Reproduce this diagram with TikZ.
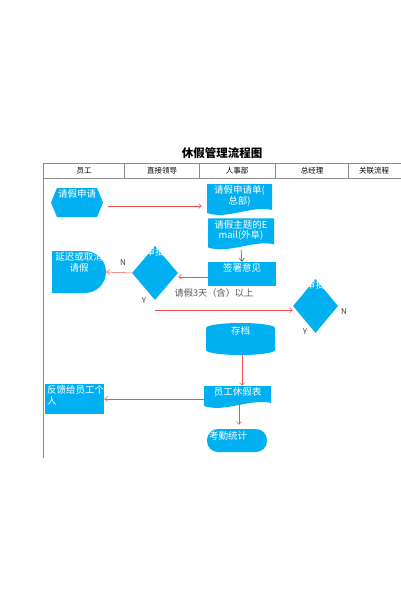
\documentclass[tikz,border=0pt]{standalone}
\usepackage{fontspec}
\setmainfont{Noto Sans CJK SC}
\usepackage{tikz}
\usetikzlibrary{shapes.geometric, shapes.symbols, arrows.meta, positioning, calc}
\definecolor{flowblue}{RGB}{0,176,240}
\definecolor{arrowred}{RGB}{240,80,80}
\definecolor{gridgray}{RGB}{140,140,140}

\begin{document}
\begin{tikzpicture}[x=1pt, y=-1pt, font=\fontsize{9.5}{10.5}\selectfont]
        % Styles
        \tikzstyle{flowshape} = [inner sep=0pt, draw=none]
        \tikzstyle{txt} = [label={[text=white, anchor=north, align=center, inner sep=2pt]north:#1}]
        \tikzstyle{txtleft} = [label={[text=white, anchor=north west, align=left, inner sep=2pt]north west:#1}]
        \tikzstyle{block} = [flowshape, rectangle, fill=flowblue]
        \tikzstyle{hexa} = [flowshape, signal, signal to=west and east, signal pointer angle=135, fill=flowblue]
        \tikzstyle{decision} = [flowshape, diamond, fill=flowblue]
        \tikzstyle{terminal} = [flowshape, rectangle, rounded corners=11pt, fill=flowblue]
        \tikzstyle{doc} = [flowshape, rectangle, path picture={
            \fill[flowblue] (path picture bounding box.north west) -- (path picture bounding box.north east)
              -- ([yshift=5pt]path picture bounding box.south east)
              .. controls ([xshift=-20pt, yshift=10pt]path picture bounding box.south east) and ([xshift=20pt, yshift=-5pt]path picture bounding box.south west) ..
              ([yshift=2pt]path picture bounding box.south west) -- cycle;}]
        \tikzstyle{delay} = [flowshape, rectangle, path picture={
            \fill[flowblue] (path picture bounding box.north west) -- ([xshift=-21pt]path picture bounding box.north east)
              arc[start angle=90, end angle=-90, radius=21pt] -- (path picture bounding box.south west) -- cycle;}]
        \tikzstyle{disk} = [flowshape, rectangle, path picture={
            \fill[flowblue] let \p1=(path picture bounding box.north west), \p2=(path picture bounding box.south east), \n1={(\x2-\x1)/2} in
              (\x1,\y1-5pt) arc[start angle=180, end angle=0, x radius=\n1, y radius=5pt]
              -- (\x2,\y2+5pt) arc[start angle=0, end angle=-180, x radius=\n1, y radius=5pt] -- cycle;}]
        \tikzstyle{line} = [draw=arrowred, line width=0.5pt, -{Straight Barb[length=3pt, width=5pt]}]
        \tikzstyle{laneline} = [draw=gridgray, line width=0.6pt]
        \tikzstyle{head} = [font=\fontsize{7.5}{8}\selectfont]
        \tikzstyle{yn} = [text=black!75, font=\fontsize{8}{8}\selectfont]

        \useasboundingbox (0,0) rectangle (400,600);

        % Title and lanes
        \node[font=\fontsize{11.5}{12}\selectfont\bfseries] (title) at (222,153) {休假管理流程图};
        \draw[laneline] (43,163) -- (401,163) (43,178) -- (401,178);
        \draw[laneline] (43,163) -- (43,458);
        \foreach \x in {124,199,275,348} \draw[laneline] (\x,163) -- (\x,178);
        \node[head] (lane1) at (84,170.5) {员工};
        \node[head] (lane2) at (162,170.5) {直接领导};
        \node[head] (lane3) at (237,170.5) {人事部};
        \node[head] (lane4) at (312,170.5) {总经理};
        \node[head] (lane5) at (374,170.5) {关联流程};

        % Nodes
        \node[hexa, minimum width=52pt, minimum height=29pt, txt={请假申请}] (apply) at (77,202.5) {};
        \node[doc, minimum width=65pt, minimum height=31pt, txt={请假申请单(\\总部)}] (form) at (239.5,199.5) {};
        \node[doc, minimum width=66pt, minimum height=31pt, below=3pt of form.south, xshift=1.5pt, txt={请假主题的E\\mail(外阜)}] (email) {};
        \node[block, minimum width=68pt, minimum height=24pt, below=12pt of email.south, xshift=1pt, txt={签署意见}] (sign) {};
        \node[decision, minimum width=46pt, minimum height=54pt, label={[text=white, anchor=north, inner sep=0pt, yshift=-1.5pt]north:审批}] (check1) at (155,273) {};
        \node[delay, minimum width=54pt, minimum height=42pt, txt={延迟或取消\\请假}] (postpone) at (79,272) {};
        \node[decision, minimum width=45pt, minimum height=54pt, label={[text=white, anchor=north, inner sep=0pt, yshift=-1.5pt]north:审批}] (check2) at (315.5,306) {};
        \node[disk, minimum width=69pt, minimum height=32pt, label={[text=white, anchor=north, inner sep=0pt, yshift=-4pt]north:存档}] (archive) at (240.5,339) {};
        \node[doc, minimum width=67pt, minimum height=22pt, txt={员工休假表}] (sheet) at (237.5,397) {};
        \node[terminal, minimum width=60pt, minimum height=23pt, txtleft={考勤统计}] (stats) at (237,440.5) {};
        \node[block, minimum width=59pt, minimum height=30pt, txtleft={反馈给员工个\\人}] (feedback) at (74.5,399) {};

        % Labels
        \node[yn] (n1) at (123,263) {N};
        \node[yn] (y1) at (144,301) {Y};
        \node[yn] (n2) at (344,312) {N};
        \node[yn] (y2) at (305,332) {Y};
        \node[text=black!65, font=\fontsize{9.2}{10}\selectfont] (days) at (214,293) {请假3天（含）以上};
        \coordinate (ybranch) at ([yshift=-10pt]check1.south);

        % Paths
        \path [line, shorten <=5pt, shorten >=5pt] ([yshift=-3.5pt]apply.east) -- ([yshift=-3.5pt]apply.east -| form.west);
        \path [draw=black!80, line width=0.5pt, -{Straight Barb[length=3pt, width=5pt]}] (email.south) -- (sign.north);
        \path [line] ([yshift=-3pt]sign.west) -- ([yshift=-3pt]sign.west -| check1.east);
        \path [line] (check1.west) -- (postpone.east);
        \path [line] (ybranch) -- (ybranch -| check2.west);
        \path [line] ([xshift=1.5pt]archive.south) -- ([xshift=1.5pt]archive.south |- sheet.north);
        \path [line] ([yshift=-2pt]sheet.west) -- ([yshift=-2pt]sheet.west -| feedback.east);
        \path [line] ([yshift=4pt, xshift=1.5pt]sheet.south) -- ([yshift=4pt, xshift=1.5pt]sheet.south |- stats.north);
    \end{tikzpicture}
\end{document}
